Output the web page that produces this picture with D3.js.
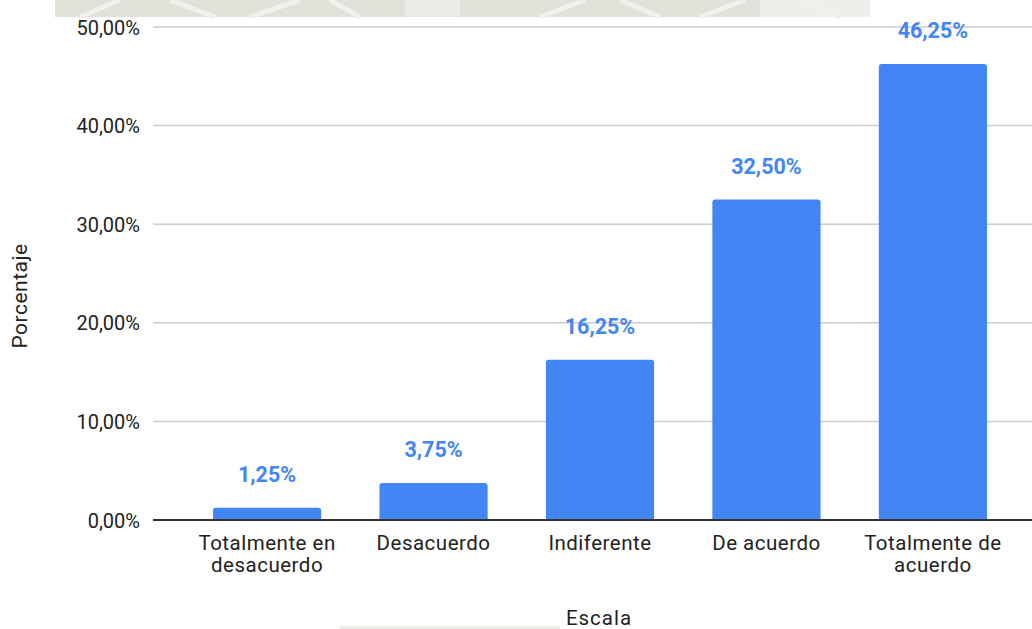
<!DOCTYPE html>
<html>
<head>
<meta charset="utf-8">
<script src="https://cdn.jsdelivr.net/npm/d3@7"></script>
<style>
  html, body { margin: 0; padding: 0; background: #fff; }
  svg { display: block; }
  text { font-family: Roboto, "Liberation Sans", Arial, sans-serif; }
</style>
</head>
<body>
<svg id="chart" width="1032" height="629"></svg>
<script>
// Categories of the response scale and their share of answers (%)
const categories = ["Totalmente en desacuerdo", "Desacuerdo", "Indiferente", "De acuerdo", "Totalmente de acuerdo"];
const categoryLines = [["Totalmente en", "desacuerdo"], ["Desacuerdo"], ["Indiferente"], ["De acuerdo"], ["Totalmente de", "acuerdo"]];
const percentages = [1.25, 3.75, 16.25, 32.50, 46.25];
const yTicks = [0, 10, 20, 30, 40, 50];

const svg = d3.select("#chart");

const plotLeft = 153, plotRight = 1032;
const y = d3.scaleLinear().domain([0, 50]).range([520, 27]);
const x = d3.scaleBand().domain(categories).range([213, 987]).paddingInner(0.35).paddingOuter(0);

const fmt = v => v.toFixed(2).replace(".", ",") + "%";

// faint decorative band along the top edge
const band = svg.append("g");
band.append("rect").attr("x", 55).attr("y", 0).attr("width", 815).attr("height", 17).attr("fill", "#e2e1d9");
band.append("rect").attr("x", 405).attr("y", 0).attr("width", 55).attr("height", 17).attr("fill", "#ebeae4");
band.append("rect").attr("x", 760).attr("y", 0).attr("width", 110).attr("height", 17).attr("fill", "#efeeea");
[[80, 120], [170, 215], [250, 300], [330, 360], [540, 585], [620, 660], [700, 745], [800, 840]].forEach(([a, b], i) => {
  band.append("line")
    .attr("x1", a).attr("y1", i % 2 ? 0 : 17).attr("x2", b).attr("y2", i % 2 ? 17 : 0)
    .attr("stroke", "#f1f0eb").attr("stroke-width", 5);
});
svg.append("rect").attr("x", 340).attr("y", 626).attr("width", 220).attr("height", 3).attr("fill", "#ecebe4");

// horizontal gridlines
svg.append("g")
  .selectAll("line")
  .data(yTicks.filter(d => d > 0))
  .join("line")
  .attr("x1", plotLeft).attr("x2", plotRight)
  .attr("y1", d => y(d)).attr("y2", d => y(d))
  .attr("stroke", "#cccccc").attr("stroke-width", 1.5);

// y axis tick labels
const yAxis = d3.axisLeft(y).tickValues(yTicks).tickFormat(fmt).tickSize(0).tickPadding(0);
const yg = svg.append("g").attr("transform", `translate(140,0)`).call(yAxis);
yg.select(".domain").remove();
yg.selectAll("text")
  .attr("font-size", 20).attr("fill", "#222").attr("dy", "0.35em")
  .style("font-family", "Roboto, 'Liberation Sans', Arial, sans-serif");

// bars with slightly rounded top corners
const r = 3;
svg.append("g")
  .selectAll("path")
  .data(categories)
  .join("path")
  .attr("fill", "#4285f4")
  .attr("d", (c, i) => {
    const x0 = x(c), w = x.bandwidth(), top = y(percentages[i]), base = y(0);
    return `M${x0},${base} V${top + r} Q${x0},${top} ${x0 + r},${top} H${x0 + w - r} Q${x0 + w},${top} ${x0 + w},${top + r} V${base} Z`;
  });

// value labels above bars
svg.append("g")
  .selectAll("text")
  .data(categories)
  .join("text")
  .attr("x", c => x(c) + x.bandwidth() / 2)
  .attr("y", (c, i) => y(percentages[i]) - 26)
  .attr("text-anchor", "middle")
  .attr("font-size", 21.5).attr("font-weight", "bold").attr("fill", "#4285f4")
  .text((c, i) => fmt(percentages[i]));

// baseline
svg.append("line")
  .attr("x1", plotLeft).attr("x2", plotRight)
  .attr("y1", y(0)).attr("y2", y(0))
  .attr("stroke", "#333").attr("stroke-width", 2);

// category labels
const xl = svg.append("g")
  .selectAll("text")
  .data(categories)
  .join("text")
  .attr("x", c => x(c) + x.bandwidth() / 2)
  .attr("y", 550)
  .attr("text-anchor", "middle")
  .attr("font-size", 20.5).attr("letter-spacing", 0.5).attr("fill", "#222");
xl.each(function (c, i) {
  d3.select(this).selectAll("tspan")
    .data(categoryLines[i])
    .join("tspan")
    .attr("x", x(c) + x.bandwidth() / 2)
    .attr("dy", (d, j) => j === 0 ? 0 : 22)
    .text(d => d);
});

// axis titles
svg.append("text")
  .attr("x", 599).attr("y", 625)
  .attr("text-anchor", "middle").attr("font-size", 20.5).attr("letter-spacing", 1).attr("fill", "#222")
  .text("Escala");

svg.append("text")
  .attr("transform", "translate(27,296) rotate(-90)")
  .attr("text-anchor", "middle").attr("font-size", 21).attr("letter-spacing", 0.5).attr("fill", "#222")
  .text("Porcentaje");
</script>
</body>
</html>
